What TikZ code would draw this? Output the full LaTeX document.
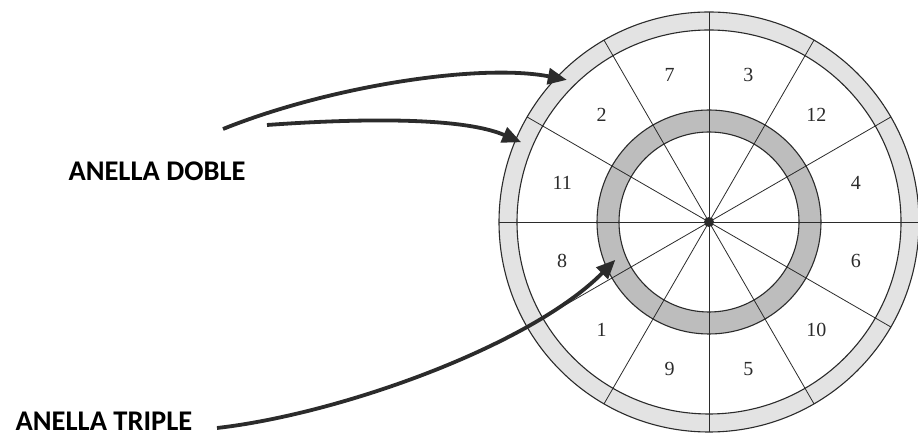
\documentclass[tikz,border=0pt]{standalone}
\usepackage{fontspec}
\setmainfont{Liberation Serif}
\newfontfamily\labelfont{Carlito}
\usetikzlibrary{arrows.meta,calc}
\definecolor{ink}{HTML}{2B2B2B}

\begin{document}
\begin{tikzpicture}[
    x=1pt, y=1pt,
    lbl/.style={anchor=base, inner sep=0pt, font=\labelfont\bfseries\fontsize{28.5}{32}\selectfont},
    num/.style={font=\fontsize{20}{24}\selectfont, text=ink},
    ring/.style={draw=ink, line width=1.1pt},
    spoke/.style={draw=ink, line width=0.8pt},
    arr/.style={-{Triangle[length=19pt, width=16pt]}, line width=3.8pt, ink},
  ]
    \useasboundingbox (0,0) rectangle (918,441);
    \coordinate (board) at (709,219);

    % rings
    \fill[gray!22, even odd rule] (board) circle[radius=210] (board) circle[radius=192];
    \fill[gray!52, even odd rule] (board) circle[radius=112] (board) circle[radius=90];
    \foreach \r in {210,192,112,90}
      \draw[ring] (board) circle[radius=\r];
    \foreach \a in {0,30,...,330}
      \draw[spoke] (board) -- ++(\a:210);
    \fill[ink] (board) circle[radius=5];

    % sector numbers
    \foreach \n [count=\i from 0] in {4,12,3,7,2,11,8,1,9,5,10,6}
      \node[num] (n\n) at ($(board)+(15+30*\i:152)$) {\n};

    % labels
    \node[lbl] (doble)  at (157,260) {ANELLA DOBLE};
    \node[lbl] (triple) at (104,10)  {ANELLA TRIPLE};

    \coordinate (d1) at (223,312);
    \coordinate (d2) at (267,316);
    \coordinate (t1) at (217,13);
    \coordinate (d1end) at ($(board)+(135:201)$);
    \coordinate (d2end) at ($(board)+(157:204)$);
    \coordinate (t1end) at ($(board)+(202:101)$);

    \draw[arr] (d1) .. controls (330,355) and (480,378) .. (d1end);
    \draw[arr] (d2) .. controls (350,322) and (460,325) .. (d2end);
    \draw[arr] (t1) .. controls (340,27) and (530,95) .. (t1end);
\end{tikzpicture}
\end{document}
